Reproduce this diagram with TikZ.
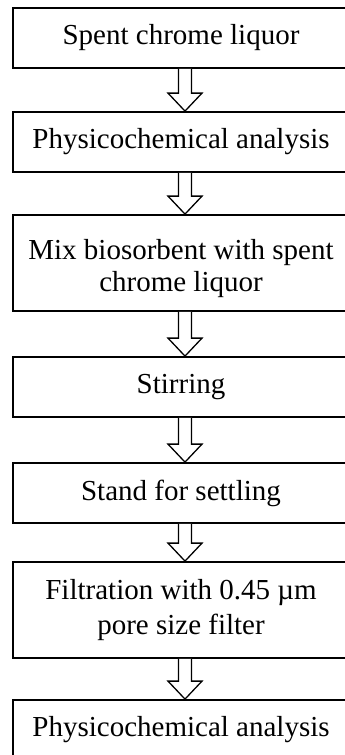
\documentclass[tikz,border=0pt]{standalone}
\usepackage{fontspec}
\setmainfont{Liberation Serif}
\usetikzlibrary{calc}
\tikzset{
  box/.style={draw=black, line width=1.8pt, minimum width=336pt, inner sep=0pt,
    align=center, font=\fontsize{29}{34}\selectfont},
  onebox/.style={box, minimum height=60pt},
  twobox/.style={box, minimum height=96pt},
  blockarrow/.style={draw=black, line width=1.3pt, fill=white, line join=miter},
}
\newcommand\flowarrow[2]{%
  \path[blockarrow] let \p1=(#1.south), \p2=(#2.north) in
    (178.5pt,\y1) -- (178.5pt,\y2+18pt) -- (168pt,\y2+18pt) -- (185pt,\y2)
    -- (202pt,\y2+18pt) -- (191.5pt,\y2+18pt) -- (191.5pt,\y1);}
\begin{document}
\begin{tikzpicture}[x=1pt, y=-1pt]
\useasboundingbox (0,0) rectangle (345,755);
\clip (0,0) rectangle (345,755);
\node[onebox] (n1) at (181,38) {Spent chrome liquor};
\node[onebox] (n2) at (181,142) {Physicochemical analysis};
\node[twobox, font=\fontsize{29}{32}\selectfont] (n3) at (181,263)
  {\rule{0pt}{32pt}Mix biosorbent with spent\\chrome liquor};
\node[onebox] (n4) at (181,387) {Stirring};
\node[onebox] (n5) at (181,493) {Stand for settling};
\node[twobox, font=\fontsize{29}{35}\selectfont] (n6) at (181,610)
  {Filtration with 0.45 µm\\pore size filter};
\node[onebox] (n7) at (181,730) {Physicochemical analysis};
\flowarrow{n1}{n2}
\flowarrow{n2}{n3}
\flowarrow{n3}{n4}
\flowarrow{n4}{n5}
\flowarrow{n5}{n6}
\flowarrow{n6}{n7}
\end{tikzpicture}
\end{document}
